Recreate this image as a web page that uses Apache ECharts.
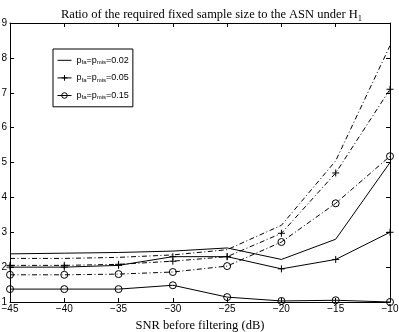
<!DOCTYPE html>
<html>
<head>
<meta charset="utf-8">
<script src="https://cdn.jsdelivr.net/npm/echarts@6/dist/echarts.min.js"></script>
<style>
  html, body { margin: 0; padding: 0; background: #fff; }
  #chart { width: 399px; height: 332px; }
</style>
</head>
<body>
<div id="chart"></div>
<script>
// SNR values (dB)
var snr = [-45, -40, -35, -30, -25, -20, -15, -10];

// solid lines
var solid002 = [2.38, 2.40, 2.42, 2.46, 2.55, 2.22, 2.80, 5.00];
var solid005 = [2.00, 2.00, 2.05, 2.30, 2.30, 1.95, 2.22, 3.00];
var solid015 = [1.37, 1.37, 1.37, 1.48, 1.14, 1.03, 1.05, 1.00];
// dash-dot lines
var dash002 = [2.25, 2.25, 2.28, 2.35, 2.50, 3.20, 5.05, 8.35];
var dash005 = [2.05, 2.05, 2.08, 2.17, 2.30, 2.97, 4.70, 7.10];
var dash015 = [1.78, 1.78, 1.80, 1.86, 2.03, 2.72, 3.83, 5.18];

var legendNames = ['0.02', '0.05', '0.15'];

function pairs(v) {
  return snr.map(function (x, i) { return [x, v[i]]; });
}

var plusPath = 'path://M0,5L10,5M5,0L5,10';
var circlePath = 'path://M10,5A5,5,0,1,1,0,5A5,5,0,1,1,10,5Z';
var dashDot = [5, 2.5, 1, 2.5];

function mk(name, data, type, symbol) {
  return {
    name: name,
    type: 'line',
    data: pairs(data),
    lineStyle: { color: '#000', width: 1, type: type },
    symbol: symbol || 'none',
    symbolSize: 7,
    showSymbol: !!symbol,
    itemStyle: { color: 'none', borderColor: '#000', borderWidth: 1 },
    emphasis: { disabled: true },
    animation: false,
    silent: true
  };
}

var chart = echarts.init(document.getElementById('chart'));

var tickFont = { fontFamily: 'Liberation Sans', fontSize: 10, color: '#000' };
var minus = function (v) { return String(v).replace('-', '\u2212'); };

var option = {
  animation: false,
  title: {
    text: '{a|Ratio of the required fixed sample size to the ASN under H}{b|1}',
    left: 56,
    top: 1,
    textStyle: {
      fontWeight: 'normal',
      rich: {
        a: { fontFamily: 'Liberation Serif', fontSize: 12.5, fontWeight: 'normal', color: '#000' },
        b: { fontFamily: 'Liberation Serif', fontSize: 8.5, fontWeight: 'normal', color: '#000', padding: [8, 0, 0, 0] }
      }
    }
  },
  legend: {
    // plain line entry: hide the default marker
    data: legendNames.map(function (n, i) {
      return i === 0 ? { name: n, itemStyle: { opacity: 0 } } : n;
    }),
    orient: 'vertical',
    left: 53,
    top: 49,
    itemWidth: 14,
    itemHeight: 7,
    itemGap: 7,
    padding: [6, 4, 6, 4],
    borderColor: '#000',
    borderWidth: 1,
    backgroundColor: '#fff',
    lineStyle: { width: 1, color: '#000' },
    itemStyle: { color: 'none', borderColor: '#000', borderWidth: 1 },
    formatter: function (n) {
      return '{n|p}{s|fa}{n|=p}{s|mis}{n|=' + n + '}';
    },
    textStyle: {
      rich: {
        n: { fontFamily: 'Liberation Sans', fontSize: 9, color: '#000' },
        s: { fontFamily: 'Liberation Sans', fontSize: 6, color: '#000', padding: [4, 0, 0, 0] }
      }
    }
  },
  grid: { left: 10, right: 9, top: 23, bottom: 30, containLabel: false, outerBoundsMode: 'none' },
  xAxis: [{
    type: 'value', min: -45, max: -10, interval: 5,
    name: 'SNR before filtering (dB)', nameLocation: 'middle', nameGap: 14,
    nameTextStyle: { fontFamily: 'Liberation Serif', fontSize: 12.5, color: '#000' },
    axisLine: { lineStyle: { color: '#000', width: 1 } },
    axisTick: { inside: true, length: 4, lineStyle: { color: '#000' } },
    axisLabel: Object.assign({ margin: 2, formatter: minus }, tickFont),
    splitLine: { show: false }
  }, {
    type: 'value', position: 'top', min: -45, max: -10, interval: 5,
    axisLine: { lineStyle: { color: '#000', width: 1 } },
    axisTick: { inside: true, length: 4, lineStyle: { color: '#000' } },
    axisLabel: { show: false },
    splitLine: { show: false }
  }],
  yAxis: [{
    type: 'value', min: 1, max: 9, interval: 1,
    axisLine: { show: true, lineStyle: { color: '#000', width: 1 } },
    axisTick: { show: true, inside: true, length: 4, lineStyle: { color: '#000' } },
    axisLabel: Object.assign({ margin: 3 }, tickFont),
    splitLine: { show: false }
  }, {
    type: 'value', position: 'right', min: 1, max: 9, interval: 1,
    axisLine: { show: true, lineStyle: { color: '#000', width: 1 } },
    axisTick: { show: true, inside: true, length: 4, lineStyle: { color: '#000' } },
    axisLabel: { show: false },
    splitLine: { show: false }
  }],
  series: [
    mk('0.02', solid002, 'solid', null),
    mk('0.05', solid005, 'solid', plusPath),
    mk('0.15', solid015, 'solid', circlePath),
    mk('dd 0.02', dash002, dashDot, null),
    mk('dd 0.05', dash005, dashDot, plusPath),
    mk('dd 0.15', dash015, dashDot, circlePath)
  ]
};

chart.setOption(option);
</script>
</body>
</html>
